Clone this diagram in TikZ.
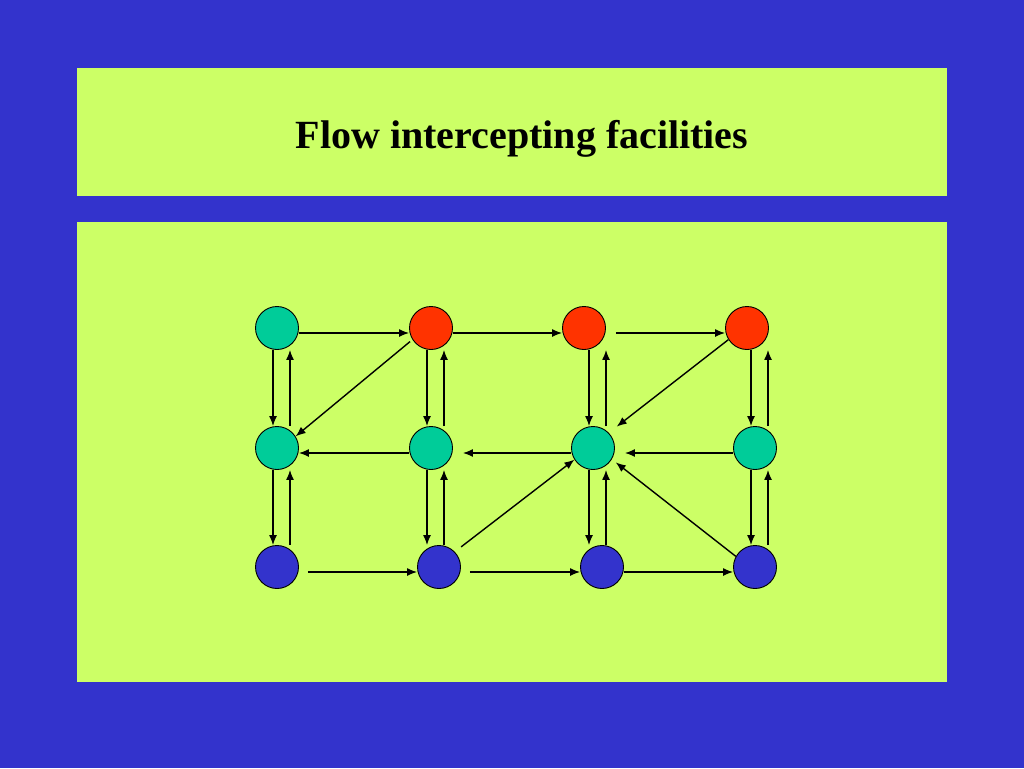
\documentclass[tikz,border=0pt]{standalone}
\usepackage{fontspec}
\setmainfont{Liberation Serif}
\usetikzlibrary{arrows.meta,calc}
\begin{document}
\begin{tikzpicture}[x=1pt, y=-1pt,
  site/.style={circle, draw=black, line width=0.9pt, minimum size=43pt, inner sep=0pt},
  arr/.style={-{Latex[length=10pt,width=8pt]}, line width=1.4pt}]
\definecolor{slideblue}{RGB}{51,51,204}
\definecolor{panel}{RGB}{204,255,102}
\definecolor{tealsite}{RGB}{0,204,153}
\definecolor{redsite}{RGB}{255,51,0}
\fill[slideblue] (0,0) rectangle (1024,768);
\useasboundingbox (0,0) rectangle (1024,768);
\fill[panel] (77,68) rectangle (947,196);
\fill[panel] (77,222) rectangle (947,682);
\node[font=\fontsize{40}{48}\selectfont\bfseries, anchor=base] (title) at (522,148) {Flow intercepting facilities};
\foreach \n/\x/\y/\c in {A/277/328/tealsite, B/431/328/redsite, C/584/328/redsite, D/747/328/redsite,
  E/277/448/tealsite, F/431/448/tealsite, G/593/448/tealsite, H/755/448/tealsite,
  I/277/567/slideblue, J/439/567/slideblue, K/602/567/slideblue, L/755/567/slideblue}
  \node[site, fill=\c] (\n) at (\x,\y) {};
\foreach \ua/\ub/\uc in {A/E/I, B/F/J, C/G/K, D/H/L} {
  \draw[arr] ($(\ua.south -| \ub)+(-4,0)$) -- ($(\ub.north)+(-4,0)$);
  \draw[arr] ($(\ub.north)+(13,0)$) -- ($(\ua.south -| \ub)+(13,0)$);
  \draw[arr] ($(\ub.south)+(-4,0)$) -- ($(\uc.north -| \ub)+(-4,0)$);
  \draw[arr] ($(\uc.north -| \ub)+(13,0)$) -- ($(\ub.south)+(13,0)$);
}
\draw[arr] ([yshift=-5pt]A.east) -- ([yshift=-5pt]B.west);
\draw[arr] ([yshift=-5pt]B.east) -- ([yshift=-5pt]C.west);
\draw[arr, shorten <=10pt] ([yshift=-5pt]C.east) -- ([yshift=-5pt]D.west);
\draw[arr] ([yshift=-5pt]F.west) -- ([yshift=-5pt]E.east);
\draw[arr, shorten >=10pt] ([yshift=-5pt]G.west) -- ([yshift=-5pt]F.east);
\draw[arr, shorten >=10pt] ([yshift=-5pt]H.west) -- ([yshift=-5pt]G.east);
\draw[arr, shorten <=9pt] ([yshift=-5pt]I.east) -- ([yshift=-5pt]J.west);
\draw[arr, shorten <=9pt] ([yshift=-5pt]J.east) -- ([yshift=-5pt]K.west);
\draw[arr] ([yshift=-5pt]K.east) -- ([yshift=-5pt]L.west);
\draw[arr, shorten <=3pt] (B.212) -- (E.32);
\draw[arr, shorten >=10pt] (D.212) -- (G.44);
\draw[arr, shorten <=8pt] (J.44) -- (G.212);
\draw[arr, shorten >=5pt] (L.151) -- (G.329);
\end{tikzpicture}
\end{document}
